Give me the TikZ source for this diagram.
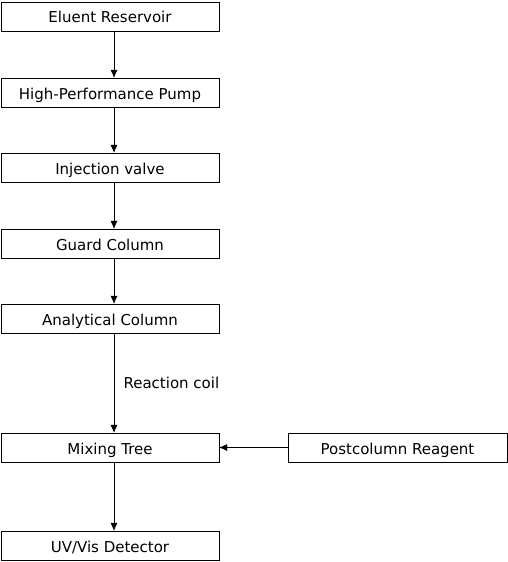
\documentclass[tikz,border=0pt]{standalone}
\usepackage{fontspec}
\setmainfont{DejaVu Sans}
\usetikzlibrary{arrows.meta}

\begin{document}
\begin{tikzpicture}[x=1pt, y=-1pt, font=\fontsize{15}{17}\selectfont,
		main/.style = {draw, rectangle, minimum width=218pt, minimum height=29pt, inner sep=0pt, text height=13pt, text depth=0pt},
		flow/.style = {-{Latex[length=8pt,width=7pt]}}]
		\useasboundingbox (0,0) rectangle (508,562);
		\node[main] (1) at (110,16.5) {Eluent Reservoir};
		\node[main] (2) at (110,92.5) {High-Performance Pump};
		\node[main] (3) at (110,167.5) {Injection valve};
		\node[main] (4) at (110,243.5) {Guard Column};
		\node[main] (5) at (110,318.5) {Analytical Column};
		\node[main] (6) at (110,447.5) {Mixing Tree};
		\node[main] (7) at (110,545.5) {UV/Vis Detector};
		\node[main, minimum width=219pt] (8) at (397.5,447.5) {Postcolumn Reagent};
		\draw[flow] ([xshift=4pt]1.south) -- ([xshift=4pt]2.north);
		\draw[flow] ([xshift=4pt]2.south) -- ([xshift=4pt]3.north);
		\draw[flow] ([xshift=4pt]3.south) -- ([xshift=4pt]4.north);
		\draw[flow] ([xshift=4pt]4.south) -- ([xshift=4pt]5.north);
		\draw[flow] ([xshift=4pt]5.south) -- node[right=6pt] {Reaction coil} ([xshift=4pt]6.north);
		\draw[flow] ([xshift=4pt]6.south) -- ([xshift=4pt]7.north);
		\draw[flow] (8) -- (6);
	\end{tikzpicture}
\end{document}
